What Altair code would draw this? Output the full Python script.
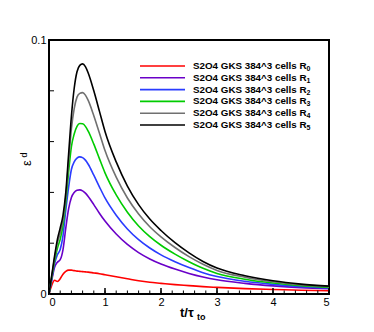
import altair as alt
import pandas as pd

t = [0, 0.05, 0.1, 0.15, 0.2, 0.25, 0.3, 0.35, 0.4, 0.45, 0.5, 0.55, 0.6, 0.65, 0.7,
     0.8, 0.9, 1.0, 1.2, 1.4, 1.6, 1.8, 2.0, 2.25, 2.5, 2.75, 3.0, 3.5, 4.0, 4.5, 5.0]

r0 = [0, 0.0035, 0.0054, 0.0049, 0.0060, 0.0078, 0.0089, 0.0094, 0.0094, 0.0092, 0.0090,
      0.0089, 0.0088, 0.0087, 0.0086, 0.0083, 0.0080, 0.0076, 0.0068, 0.0060, 0.0052,
      0.0046, 0.0042, 0.0037, 0.0033, 0.0029, 0.0026, 0.0021, 0.0018, 0.0015, 0.0013]
r1 = [0, 0.0055, 0.0105, 0.0125, 0.0135, 0.0175, 0.026, 0.0335, 0.038, 0.040, 0.0408,
      0.0410, 0.0406, 0.0397, 0.0384, 0.0352, 0.0318, 0.0287, 0.0236, 0.0195, 0.0163,
      0.0138, 0.0118, 0.0098, 0.0081, 0.0067, 0.0056, 0.0042, 0.0032, 0.0025, 0.0021]
r2 = [0, 0.006, 0.012, 0.0155, 0.0175, 0.023, 0.033, 0.042, 0.049, 0.052, 0.0535,
      0.0540, 0.0537, 0.0527, 0.0511, 0.0468, 0.0422, 0.0378, 0.0310, 0.0256, 0.0214,
      0.0181, 0.0154, 0.0127, 0.0104, 0.0084, 0.0069, 0.0050, 0.0038, 0.0029, 0.0024]
r3 = [0, 0.0065, 0.013, 0.018, 0.0215, 0.027, 0.036, 0.048, 0.058, 0.063, 0.066,
      0.0671, 0.0670, 0.0660, 0.0641, 0.0590, 0.0533, 0.0477, 0.0390, 0.0322, 0.0268,
      0.0226, 0.0192, 0.0157, 0.0127, 0.0101, 0.0081, 0.0058, 0.0043, 0.0033, 0.0026]
r4 = [0, 0.007, 0.014, 0.020, 0.024, 0.029, 0.038, 0.052, 0.065, 0.073, 0.0775,
      0.0790, 0.0793, 0.0783, 0.0762, 0.0702, 0.0634, 0.0565, 0.0460, 0.0378, 0.0315,
      0.0265, 0.0225, 0.0183, 0.0147, 0.0117, 0.0093, 0.0066, 0.0048, 0.0036, 0.0029]
r5 = [0, 0.0075, 0.015, 0.0215, 0.026, 0.031, 0.040, 0.055, 0.070, 0.081, 0.0875,
      0.0900, 0.0906, 0.0895, 0.0870, 0.0800, 0.0720, 0.0640, 0.0520, 0.0425, 0.0352,
      0.0295, 0.0250, 0.0202, 0.0162, 0.0128, 0.0102, 0.0072, 0.0052, 0.0039, 0.0031]

label_main = "S2O4 GKS 384^3 cells R"
label_subs = ["0", "1", "2", "3", "4", "5"]
names = [label_main + s for s in label_subs]
colors = ["#ff0000", "#6a00c8", "#2a3cff", "#00cc00", "#707070", "#000000"]
series = [r0, r1, r2, r3, r4, r5]

x_major = [0, 1, 2, 3, 4, 5]
x_minor = [i * 0.2 for i in range(26)]
y_ticks = [0.02, 0.04, 0.06, 0.08]

rows = []
for n, s in zip(names, series):
    for ti, v in zip(t, s):
        rows.append({"t": ti, "v": v, "s": n})
df = pd.DataFrame(rows)

W, H = 280, 254
xs = alt.Scale(domain=[0, 5], nice=False)
ys = alt.Scale(domain=[0, 0.1], nice=False)
cs = alt.Scale(domain=names, range=colors)

lines = alt.Chart(df).mark_line(strokeWidth=1.6, interpolate="monotone").encode(
    x=alt.X("t:Q", scale=xs,
            axis=alt.Axis(values=x_major, title=None, ticks=False, domain=False, grid=False,
                          labelFontSize=11, labelFont="Liberation Sans", labelColor="#000",
                          labelPadding=2)),
    y=alt.Y("v:Q", scale=ys,
            axis=alt.Axis(values=[0, 0.1], title=None, ticks=False, domain=False, grid=False,
                          labelExpr="datum.value == 0 ? '0' : '0.1'",
                          labelFontSize=11, labelFont="Liberation Sans", labelColor="#000",
                          labelPadding=3)),
    color=alt.Color("s:N", scale=cs, legend=None),
)

# legend (drawn as a block of rows in pixel space)
leg = pd.DataFrame({
    "s": names,
    "main": [label_main] * 6,
    "sub": label_subs,
    "py": [26 + 11.8 * i for i in range(6)],
})
leg["pys"] = leg["py"] + 3
leg_lines = alt.Chart(leg).mark_rule(strokeWidth=1.6).encode(
    x=alt.value(91), x2=alt.value(136),
    y=alt.Y("py:Q", scale=None),
    color=alt.Color("s:N", scale=cs, legend=None))
leg_text = alt.Chart(leg).mark_text(
    fontSize=9.8, fontWeight="bold", font="Liberation Sans", align="left",
    baseline="middle", color="black").encode(
    x=alt.value(144), y=alt.Y("py:Q", scale=None), text="main:N")
leg_sub = alt.Chart(leg).mark_text(
    fontSize=7, fontWeight="bold", font="Liberation Sans", align="left",
    baseline="middle", color="black").encode(
    x=alt.value(257.5), y=alt.Y("pys:Q", scale=None), text="sub:N")

xmaj = alt.Chart(pd.DataFrame({"t": x_major})).mark_rule(color="black", strokeWidth=1.5).encode(
    x=alt.X("t:Q", scale=xs), y=alt.datum(0, scale=ys), y2=alt.value(H - 6))
xmin = alt.Chart(pd.DataFrame({"t": x_minor})).mark_rule(color="black", strokeWidth=1).encode(
    x=alt.X("t:Q", scale=xs), y=alt.datum(0, scale=ys), y2=alt.value(H - 3.5))
ytk = alt.Chart(pd.DataFrame({"v": y_ticks})).mark_rule(color="black", strokeWidth=1).encode(
    y=alt.Y("v:Q", scale=ys), x=alt.datum(0, scale=xs), x2=alt.value(5))

xt1 = alt.Chart(pd.DataFrame({"a": [0]})).mark_text(
    text="t/\u03c4", fontSize=13, fontWeight="bold", font="Liberation Sans",
    align="left", baseline="alphabetic", color="black").encode(
    x=alt.value(131), y=alt.value(277))
xt2 = alt.Chart(pd.DataFrame({"a": [0]})).mark_text(
    text="to", fontSize=9, fontWeight="bold", font="Liberation Sans",
    align="left", baseline="alphabetic", color="black").encode(
    x=alt.value(148), y=alt.value(280))
yt1 = alt.Chart(pd.DataFrame({"a": [0]})).mark_text(
    text="\u03b5", fontSize=13, font="Liberation Sans", angle=270,
    align="center", baseline="middle", color="black").encode(
    x=alt.value(-22), y=alt.value(123))
yt2 = alt.Chart(pd.DataFrame({"a": [0]})).mark_text(
    text="d", fontSize=9, font="Liberation Sans", angle=270,
    align="center", baseline="middle", color="black").encode(
    x=alt.value(-25), y=alt.value(115))

chart = alt.layer(lines, xmaj, xmin, ytk, leg_lines, leg_text, leg_sub,
                  xt1, xt2, yt1, yt2).properties(
    width=W, height=H,
    autosize=alt.AutoSizeParams(type="none"),
    padding={"left": 41, "top": 32, "right": 37, "bottom": 30},
).configure_view(stroke="black", strokeWidth=2)

chart.save("out.html", embed_options={"renderer": "svg", "actions": False})
